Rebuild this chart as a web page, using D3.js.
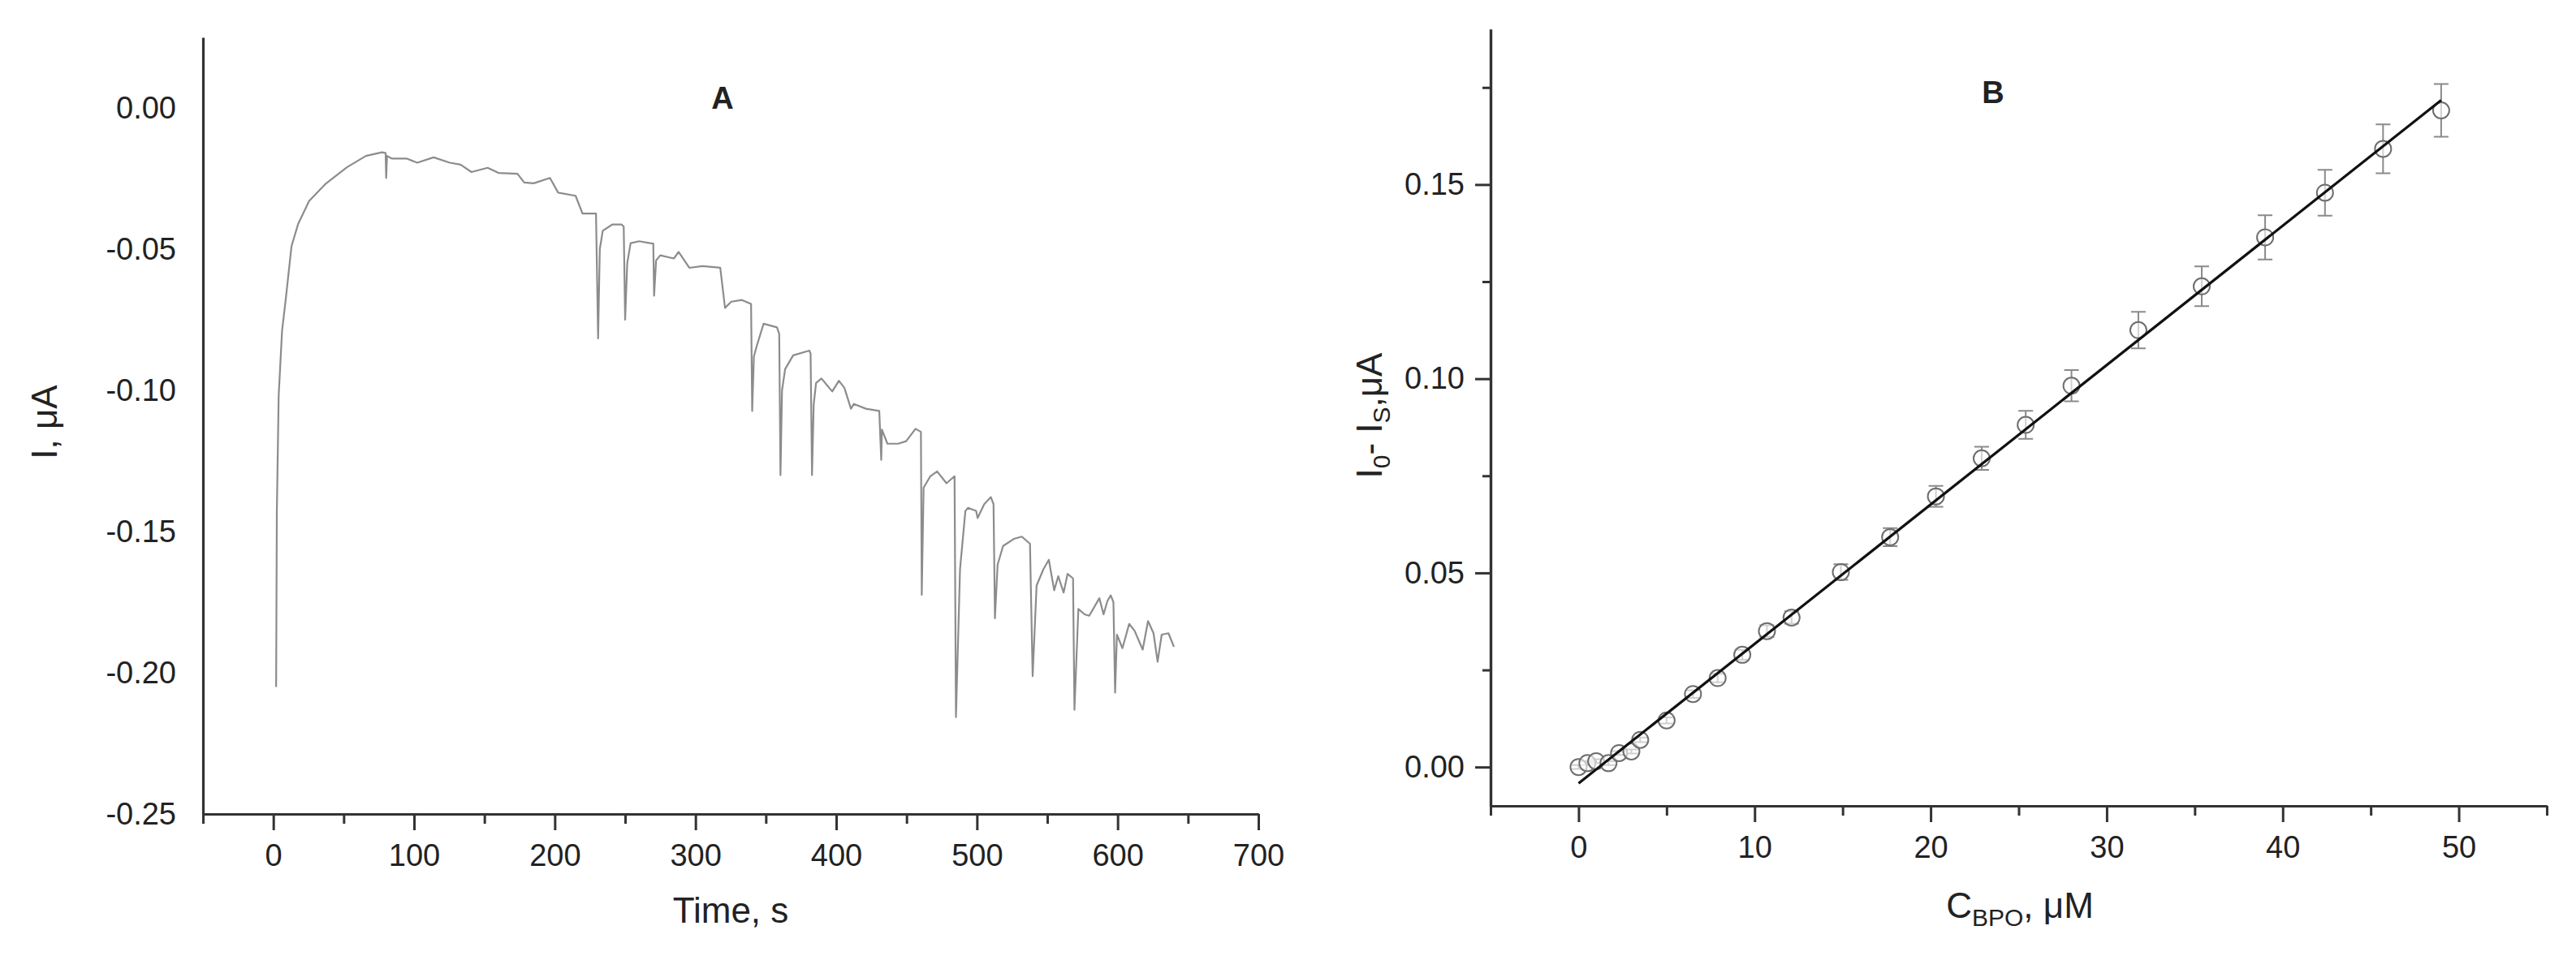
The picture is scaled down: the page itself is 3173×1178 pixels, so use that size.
<!doctype html>
<html>
<head>
<meta charset="UTF-8">
<script src="https://cdn.jsdelivr.net/npm/d3@7"></script>
<style>
  body { margin: 0; background: #fff; }
  text { font-family: "Liberation Sans", Arial, sans-serif; fill: #222; }
</style>
</head>
<body>
<svg id="chartWrapper"></svg>
<script>
// ---- panel A: amperometric trace ----
const timeSec = [2, 2.5, 3.8, 6.2, 9, 12.9, 17.7, 25.4, 36.9, 52.3, 65.8, 77.3, 79.8, 80.2, 80.8, 84.1,
  94.6, 102.3, 113.9, 125.4, 133.1, 140.8, 152.3, 160, 173.5, 178.3, 185, 196.6, 202.4, 214.8,
  219.7, 229.3, 230.8, 232, 234.1, 240.8, 247.5, 249, 250, 251.5, 253.9, 260, 267.7, 270, 270.6,
  272, 275, 284.6, 288, 295.6, 305, 317.6, 321, 325.4, 333, 339.5, 340.3, 341.5, 343.6, 348.4,
  357.9, 359.5, 360.4, 361.5, 363.7, 369.4, 380.9, 381.8, 382.8, 384, 385.7, 389.5, 397.2, 401.9,
  405.8, 410.5, 412.5, 421.1, 430.6, 432, 432.5, 436.4, 444, 449.7, 456.4, 460.2, 460.8, 462.1,
  466.9, 471.7, 478.4, 484.1, 485.1, 488, 491.8, 493.7, 499.4, 500.5, 505.2, 509.9, 511.8, 512.8,
  514.7, 518.6, 526.2, 531.9, 537.7, 539.6, 542.4, 547.3, 551.1, 554.9, 557.8, 561.6, 564.4, 568.3,
  569.3, 572.1, 576.5, 579.8, 585.5, 587, 590, 592.8, 595.1, 597, 598.2, 599.5, 603.4, 608.2, 612,
  617.8, 621.6, 625.5, 628.4, 631.3, 636.1, 640];
const currentUA = [-0.205, -0.143, -0.102, -0.079, -0.067, -0.049, -0.041, -0.033, -0.027, -0.021, -0.017, -0.0157, -0.016, -0.0248, -0.017, -0.0179,
  -0.0179, -0.0194, -0.0175, -0.0194, -0.0201, -0.0227, -0.0212, -0.023, -0.0233, -0.0264, -0.0267, -0.0248, -0.03, -0.0311,
  -0.0374, -0.0374, -0.0816, -0.05, -0.0435, -0.0413, -0.0413, -0.042, -0.075, -0.055, -0.0479, -0.0472, -0.0479, -0.048, -0.0665,
  -0.054, -0.0522, -0.0533, -0.051, -0.0566, -0.056, -0.0566, -0.0708, -0.0686, -0.068, -0.0694, -0.1073, -0.088, -0.0842, -0.0764,
  -0.0777, -0.08, -0.13, -0.1, -0.0925, -0.0876, -0.0859, -0.087, -0.13, -0.105, -0.0974, -0.0958, -0.1004, -0.0966,
  -0.0991, -0.1065, -0.1048, -0.1065, -0.1073, -0.1246, -0.1139, -0.1189, -0.1189, -0.118, -0.1136, -0.1147, -0.1724, -0.1345,
  -0.1304, -0.1287, -0.1329, -0.1304, -0.2157, -0.1633, -0.1427, -0.1416, -0.1427, -0.1452, -0.1403, -0.1378, -0.1403, -0.1807,
  -0.1617, -0.1551, -0.1526, -0.1518, -0.1543, -0.2012, -0.1691, -0.1633, -0.16, -0.1708, -0.1658, -0.1716, -0.165, -0.1666,
  -0.2131, -0.1774, -0.1793, -0.1798, -0.1749, -0.1736, -0.1793, -0.1745, -0.1726, -0.175, -0.207, -0.1865, -0.1913, -0.1827, -0.1851,
  -0.1918, -0.1817, -0.186, -0.1961, -0.1865, -0.186, -0.1908];

const xTicksA = [0, 100, 200, 300, 400, 500, 600, 700];
const xMinorA = [-50, 50, 150, 250, 350, 450, 550, 650];
const yTicksA = [0, -0.05, -0.1, -0.15, -0.2, -0.25];

// ---- panel B: calibration ----
const concBPO = [0, 0.5, 1.0, 1.7, 2.3, 3.0, 3.5, 5.0, 6.5, 7.9, 9.3, 10.7, 12.1, 14.9, 17.7, 20.3,
  22.9, 25.4, 28.0, 31.8, 35.4, 39.0, 42.4, 45.7, 49.0];
const deltaI = [0.0, 0.001, 0.0015, 0.001, 0.0036, 0.004, 0.007, 0.012, 0.0188, 0.0229, 0.0289, 0.035, 0.0385, 0.0502, 0.0592, 0.0697,
  0.0795, 0.0881, 0.0982, 0.1125, 0.1238, 0.1364, 0.1479, 0.1592, 0.1691];
const deltaIErr = [0.0005, 0.0005, 0.0005, 0.0005, 0.0005, 0.0005, 0.0006, 0.0008, 0.001, 0.0011, 0.0013, 0.0015, 0.0016, 0.002, 0.0023, 0.0027,
  0.003, 0.0036, 0.004, 0.0047, 0.0051, 0.0057, 0.0059, 0.0063, 0.0068];
const fitRange = [0, 49];
const fitIntercept = -0.0042;
const fitSlope = 0.00359;

const xTicksB = [0, 10, 20, 30, 40, 50];
const xMinorB = [-5, 5, 15, 25, 35, 45, 55];
const yTicksB = [0, 0.05, 0.1, 0.15];
const yMinorB = [0.025, 0.075, 0.125, 0.175];

(function(){
  const W = 3173, H = 1178;
  const tickFont = 38, titleFont = 44;
  const svg = d3.select("#chartWrapper").attr("width", W).attr("height", H);

  const fmt2 = d => d.toFixed(2);

  function styleAxis(g){
    g.select(".domain").attr("stroke", "#333").attr("stroke-width", 3.2);
    g.selectAll(".tick line").attr("stroke", "#333").attr("stroke-width", 3);
    g.selectAll(".tick text").style("font-size", tickFont + "px").attr("fill", "#222")
      .style("font-family", "'Liberation Sans', Arial, sans-serif");
  }

  // ===== Panel A =====
  const xA = d3.scaleLinear().domain([-50, 700]).range([250, 1550]);
  const yA = d3.scaleLinear().domain([-0.25, 0.025]).range([1003, 46]);

  svg.append("path")
    .attr("d", d3.line().x(i => xA(timeSec[i])).y(i => yA(currentUA[i]))(d3.range(timeSec.length)))
    .attr("fill", "none").attr("stroke", "#8c8c8c").attr("stroke-width", 2.2)
    .attr("stroke-linejoin", "round");

  svg.append("g").attr("transform", "translate(0,1003)")
    .call(d3.axisBottom(xA).tickValues(xMinorA).tickSize(12).tickSizeOuter(0).tickFormat(""))
    .call(styleAxis);
  svg.append("g").attr("transform", "translate(0,1003)")
    .call(d3.axisBottom(xA).tickValues(xTicksA).tickSize(20).tickSizeOuter(0).tickPadding(17))
    .call(styleAxis);
  svg.append("g").attr("transform", "translate(250,0)")
    .call(d3.axisLeft(yA).tickValues(yTicksA).tickSize(0).tickSizeOuter(0).tickPadding(33).tickFormat(fmt2))
    .call(styleAxis);

  svg.append("text").attr("x", 890).attr("y", 134).attr("text-anchor", "middle")
    .style("font-size", "38px").style("font-weight", "bold").text("A");
  svg.append("text").attr("x", 900).attr("y", 1137).attr("text-anchor", "middle")
    .style("font-size", titleFont + "px").text("Time, s");
  svg.append("text").attr("transform", "translate(70,520) rotate(-90)").attr("text-anchor", "middle")
    .style("font-size", titleFont + "px").text("I, μA");

  // ===== Panel B =====
  const xB = d3.scaleLinear().domain([-5, 55]).range([1836, 3137]);
  const yB = d3.scaleLinear().domain([-0.01, 0.19]).range([993, 36]);

  svg.append("g").attr("transform", "translate(0,993)")
    .call(d3.axisBottom(xB).tickValues(xMinorB).tickSize(12).tickSizeOuter(0).tickFormat(""))
    .call(styleAxis);
  svg.append("g").attr("transform", "translate(0,993)")
    .call(d3.axisBottom(xB).tickValues(xTicksB).tickSize(20).tickSizeOuter(0).tickPadding(17))
    .call(styleAxis);
  svg.append("g").attr("transform", "translate(1836,0)")
    .call(d3.axisLeft(yB).tickValues(yMinorB).tickSize(10).tickSizeOuter(0).tickFormat(""))
    .call(styleAxis);
  svg.append("g").attr("transform", "translate(1836,0)")
    .call(d3.axisLeft(yB).tickValues(yTicksB).tickSize(19).tickSizeOuter(0).tickPadding(13).tickFormat(fmt2))
    .call(styleAxis);

  const idx = d3.range(concBPO.length);
  const capW = 9;
  const eb = svg.append("g").attr("stroke", "#8a8a8a").attr("stroke-width", 2).attr("fill", "none");
  eb.selectAll(".err").data(idx).enter().append("path")
    .attr("class", "err")
    .attr("d", i => {
      const x = xB(concBPO[i]), y1 = yB(deltaI[i] + deltaIErr[i]), y0 = yB(deltaI[i] - deltaIErr[i]);
      return "M" + x + "," + y1 + "V" + y0 +
        "M" + (x - capW) + "," + y1 + "H" + (x + capW) +
        "M" + (x - capW) + "," + y0 + "H" + (x + capW);
    });

  svg.selectAll(".pt").data(idx).enter().append("circle")
    .attr("class", "pt")
    .attr("cx", i => xB(concBPO[i]))
    .attr("cy", i => yB(deltaI[i]))
    .attr("r", 10)
    .attr("fill", "#fff").attr("fill-opacity", 0.6)
    .attr("stroke", "#6e6e6e").attr("stroke-width", 2);

  svg.append("line")
    .attr("x1", xB(fitRange[0])).attr("y1", yB(fitIntercept + fitSlope * fitRange[0]))
    .attr("x2", xB(fitRange[1])).attr("y2", yB(fitIntercept + fitSlope * fitRange[1]))
    .attr("stroke", "#111").attr("stroke-width", 3.2);

  svg.append("text").attr("x", 2455).attr("y", 127).attr("text-anchor", "middle")
    .style("font-size", "38px").style("font-weight", "bold").text("B");

  const xl = svg.append("text").attr("x", 2488).attr("y", 1131).attr("text-anchor", "middle")
    .style("font-size", titleFont + "px");
  xl.append("tspan").text("C");
  xl.append("tspan").attr("dy", 10).style("font-size", "30px").text("BPO");
  xl.append("tspan").attr("dy", -10).text(", μM");

  const yl = svg.append("text").attr("transform", "translate(1702,512) rotate(-90)").attr("text-anchor", "middle")
    .style("font-size", titleFont + "px");
  yl.append("tspan").text("I");
  yl.append("tspan").attr("dy", 10).style("font-size", "30px").text("0");
  yl.append("tspan").attr("dy", -10).text("- I");
  yl.append("tspan").attr("dy", 10).style("font-size", "30px").text("S");
  yl.append("tspan").attr("dy", -10).text(",μA");
})();
</script>
</body>
</html>
